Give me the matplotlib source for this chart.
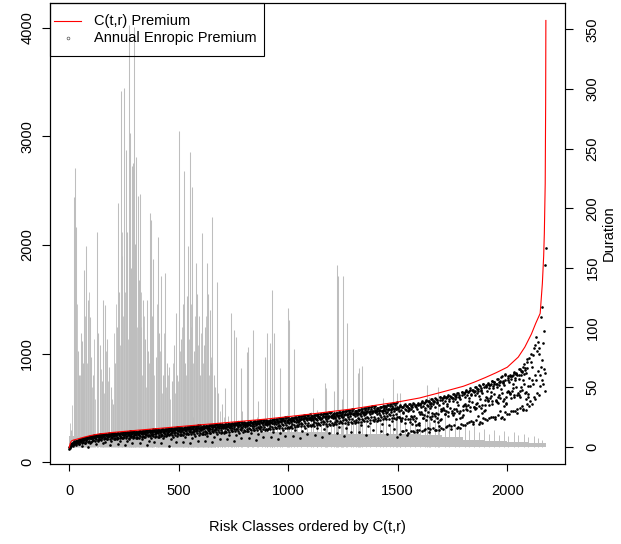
import numpy as np
import matplotlib
matplotlib.use("Agg")
import matplotlib.pyplot as plt
from matplotlib.lines import Line2D
from matplotlib.patches import Rectangle

plt.rcParams['font.family'] = ['Liberation Sans', 'DejaVu Sans']

# ---------------- data ----------------
n_classes = 2177
x_ticks = [0, 500, 1000, 1500, 2000]
prem_ticks = [0, 1000, 2000, 3000, 4000]
dur_ticks = [0, 50, 100, 150, 200, 250, 300, 350]

# C(t,r) premium curve (class index, premium)
red_x = [1, 5, 10, 20, 40, 70, 100, 134, 200, 300, 400, 500, 600, 700, 800, 900,
         1000, 1100, 1200, 1300, 1400, 1500, 1600, 1700, 1800, 1850, 1900, 1950,
         2000, 2050, 2080, 2110, 2130, 2150, 2160, 2166, 2169, 2173, 2175, 2176]
red_y = [135, 170, 195, 205, 215, 232, 247, 260, 275, 293, 310, 328, 345, 362, 380, 398,
         420, 443, 468, 493, 525, 555, 592, 645, 700, 738, 780, 825,
         875, 968, 1060, 1180, 1280, 1370, 1646, 1900, 2106, 2566, 3300, 4065]

# durations: tall spikes (class index, duration)
spike_x = [8, 23, 27, 32, 40, 45, 53, 61, 65, 70,
           78, 88, 96, 100, 110, 126, 134, 140, 150, 157,
           164, 175, 184, 190, 199, 210, 218, 225, 230, 237,
           244, 251, 260, 265, 272, 278, 282, 288, 294, 298,
           300, 306, 313, 318, 324, 330, 339, 345, 355, 362,
           370, 374, 380, 385, 395, 405, 412, 420, 428, 438,
           445, 458, 470, 480, 488, 492, 500, 510, 520, 525,
           530, 537, 545, 552, 558, 563, 570, 578, 586, 595,
           600, 608, 615, 620, 628, 636, 644, 650, 654, 660,
           668, 674, 680, 697, 712, 739, 754, 764, 785, 811,
           818, 841, 864, 895, 902, 917, 925, 937, 963, 1001,
           1005, 1028, 1112, 1130, 1168, 1173, 1209, 1222, 1229, 1245,
           1252, 1269, 1298, 1318, 1325, 1337, 1434, 1477, 1496, 1511,
           1633, 1643, 1683]
spike_h = [14, 209, 234, 184, 80, 60, 95, 89, 70, 148,
           168, 123, 109, 75, 60, 180, 95, 85, 55, 123,
           119, 90, 67, 50, 36, 70, 100, 204, 130, 298,
           160, 301, 249, 180, 354, 263, 150, 235, 238, 352,
           170, 243, 210, 140, 212, 100, 123, 90, 123, 80,
           196, 190, 110, 157, 75, 176, 95, 143, 60, 146,
           70, 67, 55, 85, 112, 60, 265, 90, 120, 231,
           70, 126, 168, 247, 100, 218, 80, 154, 128, 110,
           60, 179, 85, 100, 154, 128, 115, 70, 193, 60,
           50, 138, 45, 36, 49, 112, 98, 92, 66, 79,
           84, 98, 38, 75, 95, 87, 131, 95, 66, 116,
           106, 82, 41, 31, 53, 49, 47, 152, 143, 40,
           143, 104, 82, 62, 66, 68, 41, 57, 45, 45,
           52, 42, 50]

# durations: secondary spikes among the tall ones (left part)
extra_x = [5, 15, 35, 48, 57, 75, 83, 92, 105, 115, 120, 130, 145, 153, 160, 170, 180, 195,
           205, 215, 222, 233, 240, 248, 256, 268, 275, 285, 291, 303, 310, 321, 327, 335,
           342, 350, 358, 366, 377, 389, 400, 408, 416, 424, 433, 441, 450, 462, 475, 484,
           496, 505, 515, 533, 541, 549, 556, 566, 574, 582, 590, 604, 612, 624, 632, 640,
           648, 664, 690, 705]
extra_h = [20, 35, 120, 60, 85, 110, 70, 130, 50, 90, 40, 100, 65, 75, 45, 80, 55, 40,
           95, 120, 150, 85, 180, 110, 130, 90, 200, 120, 160, 140, 100, 75, 130, 60,
           110, 50, 90, 70, 85, 60, 120, 55, 80, 45, 95, 50, 60, 40, 70, 45,
           55, 80, 100, 60, 140, 90, 120, 70, 110, 60, 85, 95, 70, 110, 80, 60,
           75, 45, 30, 25]

# durations: medium spikes above the dense base
mid_x = [520, 545, 565, 590, 610, 635, 655, 680, 700, 725, 745, 770, 790, 815, 835,
         860, 880, 905, 925, 950, 970, 995, 1015, 1040, 1060, 1085, 1105, 1130, 1150,
         1175, 1195, 1220, 1240, 1265, 1285, 1310, 1330, 1355, 1375, 1400, 1420, 1445,
         1465, 1490, 1510, 1535, 1555, 1580, 1600, 1625, 1645, 1670, 1690, 1715, 1735,
         1760, 1780, 1805, 1825, 1850, 1870, 1895, 1915, 1940, 1960, 1985, 2005, 2030,
         2050, 2075, 2095, 2120, 2140, 2160]
mid_h = [22, 18, 25, 15, 20, 28, 17, 24, 19, 26, 16, 22, 30, 18, 21,
         25, 17, 28, 20, 23, 16, 27, 19, 24, 21, 18, 29, 22, 17,
         26, 20, 31, 18, 24, 27, 19, 22, 33, 18, 25, 21, 28,
         17, 24, 30, 19, 26, 22, 18, 29, 21, 25, 17, 31, 20,
         24, 16, 19, 14, 17, 12, 15, 11, 14, 10, 13, 9, 12,
         10, 11, 8, 9, 7, 6]

# durations: dense low base, per bin of classes
bin_starts = [0, 100, 200, 300, 400, 500, 600, 700, 800, 900, 1000,
              1100, 1200, 1300, 1400, 1500, 1600, 1700, 1800, 1900, 2000, 2100]
base_h = [9, 10, 10, 10, 11, 12, 12, 12, 12, 12, 12,
          12, 11, 11, 11, 11, 10, 8, 6, 5, 4, 3]

# annual entropic premium, in class order, per bin
dots_0000 = [122, 130, 140, 148, 155, 160, 170, 150, 165, 180, 175, 190, 160, 185, 198, 190, 205, 170, 195,
             210, 200, 212, 150, 205, 220, 208, 225, 175, 212, 228, 215, 230, 145, 220, 235, 180, 225]
dots_0100 = [240, 225, 245, 205, 232, 250, 228, 165, 238, 255, 195, 242, 230, 258, 210, 235, 248, 260, 175, 238,
             252, 190, 228, 262, 245, 215, 255, 240, 265, 160, 250, 200, 235, 268]
dots_0200 = [255, 240, 268, 215, 250, 262, 235, 170, 270, 258, 200, 245, 272, 260, 225, 248, 275, 255, 160, 265,
             240, 195, 278, 262, 250, 210, 280, 265, 245, 180, 282, 220, 268, 255]
dots_0300 = [270, 255, 282, 225, 262, 275, 250, 175, 288, 268, 210, 258, 285, 272, 235, 260, 290, 265, 160, 278,
             252, 200, 295, 275, 262, 220, 292, 280, 265, 185, 298, 230, 272, 285]
dots_0400 = [285, 268, 298, 235, 275, 290, 262, 180, 302, 280, 220, 270, 300, 288, 245, 272, 305, 278, 150, 292,
             265, 215, 310, 285, 275, 230, 308, 295, 280, 190, 312, 240, 288, 300]
dots_0500 = [300, 282, 312, 250, 290, 305, 275, 190, 318, 295, 230, 285, 315, 302, 260, 288, 322, 292, 175, 308,
             278, 225, 325, 300, 290, 245, 320, 310, 295, 200, 330, 255, 305, 315]
dots_0600 = [315, 298, 328, 262, 305, 320, 290, 200, 335, 312, 245, 300, 332, 318, 270, 305, 340, 310, 185, 325,
             295, 235, 342, 318, 306, 258, 338, 325, 312, 210, 348, 268, 320, 332]
dots_0700 = [330, 312, 345, 275, 320, 335, 305, 210, 352, 328, 255, 315, 348, 335, 285, 320, 356, 325, 195, 340,
             310, 248, 360, 335, 322, 270, 355, 342, 328, 220, 365, 280, 338, 350]
dots_0800 = [345, 328, 362, 290, 335, 352, 318, 222, 368, 342, 268, 330, 365, 350, 300, 335, 372, 340, 205, 358,
             325, 260, 378, 352, 338, 285, 372, 360, 345, 230, 382, 295, 355, 368]
dots_0900 = [362, 345, 380, 305, 352, 370, 335, 232, 388, 360, 282, 348, 385, 370, 318, 352, 392, 358, 215, 378,
             342, 272, 398, 372, 356, 300, 395, 380, 365, 245, 405, 312, 375, 390]
dots_1000 = [385, 365, 402, 322, 372, 392, 355, 245, 410, 382, 298, 368, 408, 392, 335, 372, 415, 378, 225, 400,
             362, 288, 422, 395, 378, 315, 420, 405, 385, 260, 430, 330, 398, 412]
dots_1100 = [405, 385, 425, 340, 392, 415, 372, 255, 432, 402, 312, 388, 430, 415, 352, 395, 440, 400, 235, 422,
             380, 302, 445, 418, 398, 330, 442, 428, 405, 270, 452, 345, 420, 435]
dots_1200 = [425, 405, 445, 355, 412, 435, 392, 268, 455, 422, 328, 408, 452, 435, 370, 415, 462, 420, 245, 442,
             400, 318, 468, 440, 418, 348, 465, 450, 428, 282, 475, 362, 442, 458]
dots_1300 = [445, 425, 468, 372, 432, 455, 410, 280, 478, 445, 340, 428, 475, 458, 388, 435, 485, 442, 255, 465,
             420, 330, 492, 462, 440, 362, 488, 472, 450, 295, 498, 378, 465, 480]
dots_1400 = [470, 448, 492, 390, 455, 480, 432, 292, 505, 468, 355, 450, 500, 485, 405, 458, 512, 465, 265, 490,
             442, 345, 518, 488, 462, 380, 515, 498, 475, 305, 525, 398, 490, 505, 230]
dots_1500 = [495, 420, 470, 265, 515, 385, 485, 505, 405, 462, 285, 525, 360, 492, 478, 430, 520, 255, 500, 395,
             482, 372, 535, 290, 495, 415, 512, 400, 470, 275, 540, 380, 505, 340, 488, 300, 530, 350, 362, 345]
dots_1600 = [530, 445, 505, 285, 552, 410, 520, 545, 435, 498, 305, 565, 390, 530, 515, 460, 560, 275, 540, 420,
             522, 400, 578, 315, 535, 448, 552, 430, 510, 295, 585, 410, 548, 372, 530, 330, 598, 385, 395, 470]
dots_1700 = [575, 480, 548, 310, 600, 445, 565, 590, 472, 540, 330, 612, 425, 578, 560, 500, 605, 305, 590, 458,
             568, 438, 625, 342, 585, 490, 600, 470, 555, 322, 635, 450, 598, 410, 578, 355, 648, 420, 435, 515]
dots_1800 = [625, 530, 600, 345, 655, 495, 620, 645, 525, 592, 370, 668, 472, 632, 615, 552, 662, 352, 645, 508,
             622, 488, 690, 385, 640, 545, 660, 520, 612, 368, 705, 500, 655, 455, 635, 405, 720, 470, 485, 570]
dots_1900 = [690, 600, 660, 385, 725, 560, 685, 712, 592, 650, 415, 745, 540, 700, 680, 625, 738, 398, 720, 575,
             690, 552, 770, 435, 715, 615, 740, 590, 675, 420, 790, 565, 735, 520, 710, 460, 810, 535, 548, 650]
dots_2000 = [760, 660, 735, 440, 795, 625, 765, 790, 655, 725, 470, 820, 600, 780, 760, 690, 815, 455, 800, 640,
             770, 620, 860, 500, 805, 690, 830, 665, 760, 490, 900, 640, 850, 580, 820, 540, 950, 600, 630, 780]
dots_2100 = [960, 700, 560, 920, 1000, 760, 540, 880, 990, 720, 600, 1050, 800, 1079, 580, 1155, 760, 1026, 640,
             1109, 840, 1000, 620, 1050, 800, 700, 1333, 880, 1425, 760, 940, 1100, 720, 860, 1210, 820, 660,
             1814, 1973]

# second pass of premium dots, mostly the dense band just under the curve
band_0000 = [140, 150, 165, 172, 180, 178, 188, 192, 186, 196, 200, 194, 205, 208, 200, 212, 215, 206, 218, 220,
             212, 225, 228, 218, 230, 232, 222, 236, 238, 228]
band_0100 = [225, 238, 230, 242, 235, 245, 232, 248, 240, 250, 236, 252, 244, 255, 240, 256, 246, 258, 242, 260,
             250, 262, 246, 264, 252, 266, 250, 268, 256, 270]
band_0200 = [248, 262, 255, 266, 250, 268, 258, 270, 252, 272, 262, 274, 256, 276, 264, 278, 258, 280, 268, 282,
             262, 283, 270, 285, 265, 286, 272, 288, 268, 289]
band_0300 = [262, 278, 270, 282, 265, 284, 274, 286, 268, 288, 276, 290, 272, 292, 280, 294, 275, 295, 282, 297,
             278, 298, 284, 300, 280, 302, 286, 303, 282, 305]
band_0400 = [278, 294, 285, 298, 280, 300, 290, 302, 284, 304, 292, 306, 288, 308, 296, 310, 290, 312, 298, 314,
             294, 316, 300, 318, 296, 320, 304, 321, 300, 323]
band_0500 = [295, 312, 302, 315, 298, 318, 306, 320, 300, 322, 310, 324, 304, 326, 312, 328, 308, 330, 316, 332,
             310, 334, 318, 336, 314, 338, 320, 339, 316, 341]
band_0600 = [310, 328, 318, 332, 312, 334, 322, 336, 316, 338, 326, 340, 320, 342, 330, 344, 324, 346, 332, 348,
             328, 350, 336, 352, 330, 354, 338, 355, 334, 357]
band_0700 = [325, 345, 332, 348, 328, 350, 338, 352, 330, 355, 342, 357, 336, 359, 346, 361, 340, 363, 348, 365,
             344, 367, 352, 369, 346, 371, 354, 373, 350, 375]
band_0800 = [340, 362, 348, 365, 342, 367, 354, 370, 346, 372, 358, 374, 350, 376, 362, 378, 355, 380, 365, 383,
             360, 385, 368, 387, 362, 389, 370, 391, 366, 393]
band_0900 = [355, 380, 365, 383, 358, 386, 370, 389, 362, 392, 375, 395, 368, 398, 380, 401, 372, 404, 384, 407,
             376, 410, 388, 412, 380, 414, 390, 416, 384, 418]
band_1000 = [375, 402, 385, 405, 378, 408, 390, 411, 382, 414, 395, 417, 388, 420, 400, 423, 392, 426, 404, 429,
             396, 432, 408, 435, 400, 437, 410, 439, 404, 441]
band_1100 = [395, 425, 405, 428, 398, 431, 410, 434, 402, 437, 415, 440, 408, 443, 420, 446, 412, 449, 424, 452,
             416, 455, 428, 458, 420, 461, 430, 463, 424, 466]
band_1200 = [418, 448, 428, 451, 420, 454, 432, 457, 424, 460, 436, 463, 428, 466, 440, 469, 432, 472, 444, 475,
             436, 478, 448, 481, 440, 484, 450, 487, 444, 490]
band_1300 = [440, 472, 450, 476, 442, 480, 455, 484, 446, 488, 460, 492, 450, 496, 464, 500, 455, 504, 468, 507,
             460, 510, 472, 513, 464, 516, 476, 519, 468, 522]
band_1400 = [465, 498, 475, 502, 468, 506, 480, 510, 470, 514, 485, 518, 475, 522, 490, 526, 480, 530, 494, 534,
             485, 538, 498, 542, 488, 545, 500, 548, 492, 551]
band_1500 = [500, 420, 525, 380, 510, 450, 535, 300, 518, 470, 540, 400, 522, 350, 545, 430, 528, 280, 550, 460]
band_1600 = [540, 460, 565, 410, 548, 480, 575, 320, 555, 500, 585, 430, 560, 380, 595, 450, 570, 300, 605, 490]
band_1700 = [590, 500, 610, 440, 598, 520, 620, 340, 605, 470, 630, 455, 612, 400, 640, 530, 618, 320, 650, 480]
band_1800 = [640, 540, 665, 480, 650, 560, 680, 380, 660, 510, 695, 500, 670, 430, 710, 580, 680, 360, 725, 530]
band_1900 = [700, 590, 730, 530, 712, 610, 750, 420, 725, 560, 765, 545, 738, 470, 785, 640, 750, 400, 800, 600]
band_2000 = [780, 650, 800, 590, 790, 680, 830, 470, 810, 620, 860, 600, 840, 520, 880, 720, 870, 480, 920, 700]

# third pass: lower part of the band
lower_0000 = [150, 160, 170, 165, 175, 180, 172, 185, 178, 190, 182, 195, 186, 200, 190]
lower_0100 = [195, 205, 200, 212, 205, 218, 208, 222, 212, 226, 215, 230, 218, 233, 220]
lower_0200 = [210, 222, 215, 228, 220, 232, 224, 236, 226, 240, 228, 242, 230, 245, 232]
lower_0300 = [222, 235, 228, 240, 232, 245, 236, 248, 238, 252, 240, 255, 242, 258, 245]
lower_0400 = [235, 248, 240, 254, 245, 258, 248, 262, 250, 266, 252, 270, 255, 272, 258]
lower_0500 = [248, 262, 252, 268, 256, 272, 260, 276, 262, 280, 265, 284, 268, 286, 270]
lower_0600 = [260, 275, 265, 280, 270, 285, 272, 290, 275, 294, 278, 297, 280, 300, 282]
lower_0700 = [272, 288, 278, 294, 282, 298, 286, 302, 288, 306, 290, 310, 293, 313, 296]
lower_0800 = [285, 302, 290, 308, 295, 312, 298, 316, 300, 320, 303, 324, 306, 327, 309]
lower_0900 = [298, 316, 304, 322, 308, 326, 312, 330, 314, 335, 317, 339, 320, 342, 323]
lower_1000 = [315, 334, 320, 340, 325, 345, 330, 349, 332, 354, 336, 358, 340, 361, 343]
lower_1100 = [330, 352, 336, 358, 342, 363, 346, 368, 350, 373, 354, 377, 357, 380, 360]
lower_1200 = [345, 370, 352, 376, 358, 381, 362, 386, 366, 391, 370, 395, 373, 398, 376]
lower_1300 = [362, 390, 370, 396, 375, 402, 380, 407, 384, 412, 388, 416, 392, 420, 396]
lower_1400 = [380, 410, 388, 416, 394, 422, 398, 428, 402, 433, 406, 438, 410, 442, 415]
lower_1500 = [505, 410, 290, 512, 395, 520, 270, 500, 430, 528, 285, 515, 410, 532, 300]
lower_1600 = [545, 440, 300, 552, 425, 560, 310, 548, 455, 568, 295, 558, 445, 575, 320]
lower_1700 = [592, 480, 325, 600, 465, 608, 335, 595, 495, 615, 318, 605, 475, 622, 345]
lower_1800 = [648, 520, 360, 658, 505, 668, 375, 652, 540, 678, 355, 662, 525, 690, 395]
lower_1900 = [712, 575, 405, 722, 560, 735, 420, 718, 600, 748, 410, 730, 585, 760, 440]
lower_2000 = [790, 640, 470, 805, 620, 820, 490, 800, 660, 840, 480, 815, 650, 870, 520]

dot_bins = [dots_0000, dots_0100, dots_0200, dots_0300, dots_0400, dots_0500, dots_0600, dots_0700,
            dots_0800, dots_0900, dots_1000, dots_1100, dots_1200, dots_1300, dots_1400, dots_1500,
            dots_1600, dots_1700, dots_1800, dots_1900, dots_2000, dots_2100]
band_bins = [band_0000, band_0100, band_0200, band_0300, band_0400, band_0500, band_0600, band_0700,
             band_0800, band_0900, band_1000, band_1100, band_1200, band_1300, band_1400, band_1500,
             band_1600, band_1700, band_1800, band_1900, band_2000]
lower_bins = [lower_0000, lower_0100, lower_0200, lower_0300, lower_0400, lower_0500, lower_0600,
              lower_0700, lower_0800, lower_0900, lower_1000, lower_1100, lower_1200, lower_1300,
              lower_1400, lower_1500, lower_1600, lower_1700, lower_1800, lower_1900, lower_2000]

# ---------------- figure ----------------
W, H = 621, 544
fig = plt.figure(figsize=(W / 100, H / 100), dpi=100)
L, R, T, B = 50, 565, 3.3, 464
ax = fig.add_axes([L / W, 1 - B / H, (R - L) / W, (B - T) / H])   # duration (right scale)
ax2 = ax.twinx()                                                   # premium (left scale)

gray = '#BEBEBE'
edges = bin_starts + [n_classes]
widths = [edges[i + 1] - edges[i] for i in range(len(bin_starts))]
ax.bar(bin_starts, base_h, width=widths, align='edge', color=gray, linewidth=0)
ax.vlines(mid_x, 0, mid_h, color=gray, linewidth=0.7)
ax.vlines(extra_x, 0, extra_h, color=gray, linewidth=0.6)
ax.vlines(spike_x, 0, spike_h, color=gray, linewidth=0.75)


def bin_positions(values_bins, shift):
    xs, ys = [], []
    for i, vals in enumerate(values_bins):
        s, e = edges[i], edges[i + 1]
        step = (e - s) / len(vals)
        xs.extend(np.arange(len(vals)) * step + s + shift * step)
        ys.extend(vals)
    return xs, ys


dx1, dy1 = bin_positions(dot_bins, 0.5)
dx2, dy2 = bin_positions(band_bins, 0.25)
dx3, dy3 = bin_positions(lower_bins, 0.75)
ax2.plot(dx1 + dx2 + dx3, dy1 + dy2 + dy3, linestyle='none', marker='o', markersize=1.9,
         color='black', markeredgewidth=0)
ax2.plot(red_x, red_y, color='red', linewidth=0.8)

# limits
ax.set_xlim(-86.7, 2263.3)
ax.set_ylim(-14.5, 371.8)
ax2.set_ylim(-15.6, 4223)

# axes styling
fs = 10.5
ax.set_xticks(x_ticks)
ax.set_xticklabels([str(v) for v in x_ticks], fontsize=fs)
ax.yaxis.tick_right()
ax.yaxis.set_label_position('right')
ax.set_yticks(dur_ticks)
ax.set_yticklabels([str(v) for v in dur_ticks], fontsize=fs, rotation=90, va='center')
ax2.yaxis.tick_left()
ax2.set_yticks(prem_ticks)
ax2.set_yticklabels([str(v) for v in prem_ticks], fontsize=fs, rotation=90, va='center')
ax.tick_params(axis='x', direction='out', length=5.2, width=0.8, pad=9.5)
ax.tick_params(axis='y', direction='out', length=5.8, width=0.8, pad=9)
ax2.tick_params(axis='y', direction='out', length=5.8, width=0.8, pad=5.5, left=True, labelleft=True,
                right=False, labelright=False)
for a in (ax, ax2):
    for sp in a.spines.values():
        sp.set_linewidth(0.8)

fig.text(307.5 / W, 1 - 527 / H, 'Risk Classes ordered by C(t,r)', ha='center', va='center', fontsize=fs)
fig.text(609 / W, 1 - 233.6 / H, 'Duration', ha='center', va='center', rotation=90, fontsize=fs)

# legend box (R style, transparent background)
fig.add_artist(Rectangle((50 / W, 1 - 56 / H), 214 / W, 52.7 / H, transform=fig.transFigure,
                         fill=False, edgecolor='black', linewidth=0.8))
fig.add_artist(Line2D([54 / W, 81 / W], [1 - 21 / H, 1 - 21 / H], transform=fig.transFigure,
                      color='red', linewidth=0.8))
fig.add_artist(Line2D([68 / W], [1 - 38 / H], transform=fig.transFigure, linestyle='none',
                      marker='o', markersize=2, markerfacecolor='none', markeredgecolor='#555555',
                      markeredgewidth=0.5))
fig.text(94 / W, 1 - 21 / H, 'C(t,r) Premium', va='center', ha='left', fontsize=fs)
fig.text(94 / W, 1 - 38 / H, 'Annual Enropic Premium', va='center', ha='left', fontsize=fs)

fig.savefig('out.png', dpi=100)
